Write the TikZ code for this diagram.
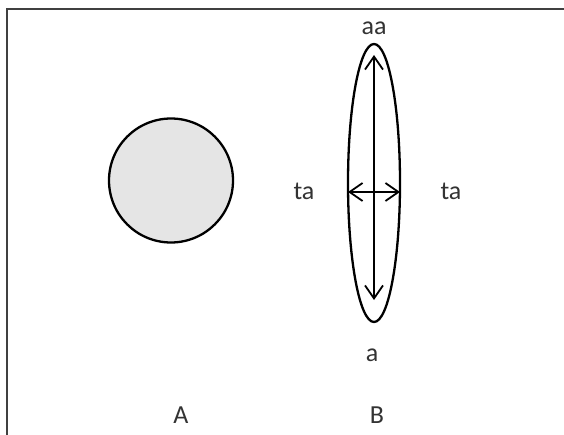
\documentclass[tikz,border=0pt]{standalone}
\usepackage{fontspec}
\setmainfont{Carlito}
\usetikzlibrary{arrows.meta,shapes.geometric}
\begin{document}
\begin{tikzpicture}[x=1pt,y=-1pt,
  shapeline/.style={draw=black,line width=2.3pt},
  dbl/.style={line width=2.6pt,{Straight Barb[length=13pt,width=18pt,line width=1.8pt]}-{Straight Barb[length=13pt,width=18pt,line width=1.8pt]}},
  lbl/.style={font=\fontsize{26}{30}\selectfont,text=black!80,inner sep=0pt}]
\useasboundingbox (0,0) rectangle (564,435);
\fill[white] (0,0) rectangle (564,435);
\draw[line width=2pt,black!75] (7,445) -- (7,9) -- (570,9);
\node[circle,shapeline,fill=black!10,minimum size=124pt,inner sep=0pt] (cA) at (171,180.5) {};
\node[ellipse,shapeline,minimum width=52pt,minimum height=278pt,inner sep=0pt] (eB) at (374,183) {};
\coordinate (vt) at (374,55);
\coordinate (vb) at (374,300);
\coordinate (hl) at (348,192);
\coordinate (hr) at (400,192);
\draw[dbl] (vt) -- (vb);
\draw[dbl] (hl) -- (hr);
\node[lbl] (aa) at (374,28) {aa};
\node[lbl] (ta1) at (304,191) {ta};
\node[lbl] (ta2) at (451,191) {ta};
\node[lbl] (a) at (372,355) {a};
\node[lbl] (A) at (181,415) {A};
\node[lbl] (B) at (377,415) {B};
\end{tikzpicture}
\end{document}
